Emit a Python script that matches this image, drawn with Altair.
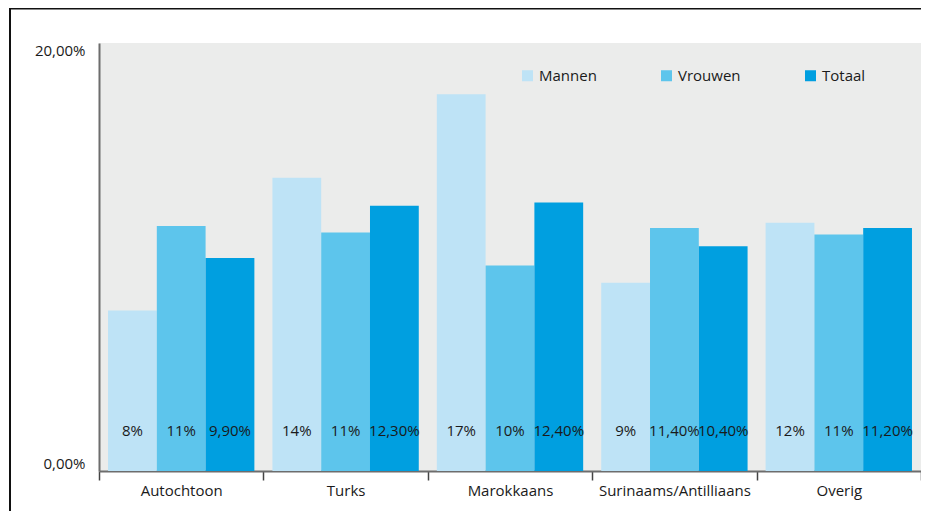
import altair as alt
import pandas as pd

categories = ["Autochtoon", "Turks", "Marokkaans", "Surinaams/Antilliaans", "Overig"]
groups = ["Mannen", "Vrouwen", "Totaal"]
mannen = [7.5, 13.7, 17.6, 8.8, 11.6]
vrouwen = [11.45, 11.15, 9.6, 11.35, 11.05]
totaal = [9.95, 12.4, 12.55, 10.5, 11.35]
labels_mannen = ["8%", "14%", "17%", "9%", "12%"]
labels_vrouwen = ["11%", "11%", "10%", "11,40%", "11%"]
labels_totaal = ["9,90%", "12,30%", "12,40%", "10,40%", "11,20%"]
colors = ["#BEE3F6", "#5DC5EC", "#009FE0"]

rows = []
for g, vals, labs in zip(groups, [mannen, vrouwen, totaal],
                         [labels_mannen, labels_vrouwen, labels_totaal]):
    for c, v, l in zip(categories, vals, labs):
        rows.append({"cat": c, "grp": g, "val": v, "lab": l})
df = pd.DataFrame(rows)

FONT = "Open Sans"
TXT = "#1a1a1a"

x_enc = alt.X("cat:N", sort=categories, title=None,
              scale=alt.Scale(paddingInner=0, paddingOuter=0),
              axis=alt.Axis(labelAngle=0, tickBand="extent", domainColor="#6d6d6d",
                            domainWidth=2, tickColor="#444", tickWidth=1.5, tickSize=9,
                            labelPadding=3, labelFontSize=15, labelColor=TXT,
                            labelFont=FONT))
xo_enc = alt.XOffset("grp:N", sort=groups,
                     scale=alt.Scale(paddingInner=0, paddingOuter=0.185))

base = alt.Chart(df)

bars = base.mark_bar().encode(
    x=x_enc,
    xOffset=xo_enc,
    y=alt.Y("val:Q", title=None,
            scale=alt.Scale(domain=[0, 20], nice=False),
            axis=alt.Axis(values=[0, 20], grid=False, ticks=False,
                          domainColor="#6d6d6d", domainWidth=2,
                          labelExpr="replace(format(datum.value, '.2f'), '.', ',') + '%'",
                          labelBaseline={"expr": "datum.value > 0 ? 'top' : 'bottom'"},
                          labelPadding=14, labelFontSize=15, labelColor=TXT,
                          labelFont=FONT)),
    color=alt.Color("grp:N", sort=groups,
                    scale=alt.Scale(domain=groups, range=colors),
                    legend=alt.Legend(title=None, orient="none", legendX=421, legendY=25,
                                      direction="horizontal", symbolType="square",
                                      symbolSize=121, symbolStrokeWidth=0,
                                      symbolOpacity=1, labelFontSize=15,
                                      labelFont=FONT, labelColor=TXT,
                                      labelOffset=4, columnPadding=62)),
)

texts = base.mark_text(fontSize=15, font=FONT, color=TXT).encode(
    x=alt.X("cat:N", sort=categories),
    xOffset=xo_enc,
    y=alt.value(388),
    text="lab:N",
)

frame_df = pd.DataFrame({"a": [0]})
left_line = alt.Chart(frame_df).mark_rule(color="#111", strokeWidth=2).encode(
    x=alt.value(-89), y=alt.value(-35), y2=alt.value(600))
top_line = alt.Chart(frame_df).mark_rule(color="#111", strokeWidth=1.5).encode(
    x=alt.value(-89), x2=alt.value(900), y=alt.value(-34.25))

chart = alt.layer(bars, texts, left_line, top_line).properties(
    width=822, height=428,
    padding={"left": 91, "top": 35, "right": 0, "bottom": 40},
    autosize=alt.AutoSizeParams(type="none"),
).configure(background="white").configure_view(fill="#EBECEB", stroke=None)

chart.save("out.html", embed_options={"renderer": "svg", "actions": False})
